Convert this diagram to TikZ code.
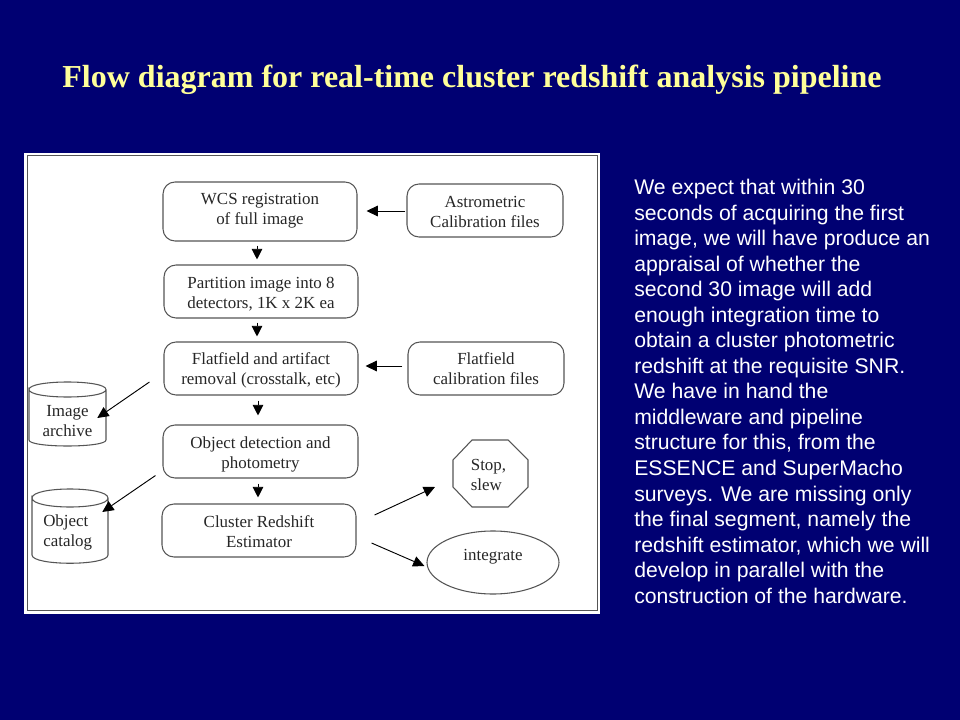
\documentclass[tikz,border=0pt]{standalone}
\usepackage{fontspec}
\setmainfont{Liberation Serif}
\newfontfamily\sansf{Liberation Sans}
\usetikzlibrary{arrows.meta,shapes.geometric}
\definecolor{navy}{HTML}{000072}
\definecolor{titley}{HTML}{FFFF99}
\definecolor{edgeg}{HTML}{555555}
\newcommand\tl[2]{\raisebox{\dimexpr-3.9pt+#1pt\relax}[0pt][0pt]{\begin{tabular}{@{}c@{}}#2\end{tabular}}}
\tikzset{
  x=0.75pt,y=-0.75pt,
  boxn/.style={draw=edgeg,line width=0.8pt,rounded corners=9pt,inner sep=0pt,
    font=\fontsize{12.7}{15}\selectfont,text=black!85},
  cylbody/.style={draw=edgeg,line width=0.8pt},
  lab/.style={align=left,inner sep=0pt,font=\fontsize{12.7}{15}\selectfont,text=black!85},
  arr/.style={draw=black,line width=0.7pt,-{Triangle[length=8.5pt,width=8pt]}},
  arrs/.style={draw=black,line width=0.7pt,-{Triangle[length=8pt,width=8pt]}},
}
\begin{document}
\begin{tikzpicture}
\useasboundingbox (0,0) rectangle (960,720);
\fill[navy] (0,0) rectangle (960,720);
\node[inner sep=0pt,anchor=center,text=titley,font=\fontsize{24}{28}\selectfont\bfseries] (title) at (472,80) {Flow diagram for real-time cluster redshift analysis pipeline};
\fill[white] (24,153) rectangle (600,614);
\draw[edgeg,line width=0.6pt] (27,155) rectangle (597,610);
% boxes
\node[boxn,minimum width=145.5pt,minimum height=44.25pt] (wcs) at (260,211.5) {\tl{1.9}{WCS registration\\of full image}};
\node[boxn,minimum width=145.5pt,minimum height=39.75pt] (part) at (261,291.5) {\tl{-1.1}{Partition image into 8\\detectors, 1K x 2K ea}};
\node[boxn,minimum width=145.5pt,minimum height=39.75pt] (flat) at (261,368.5) {\tl{-0.75}{Flatfield and artifact\\removal (crosstalk, etc)}};
\node[boxn,minimum width=146.25pt,minimum height=39.75pt] (obj) at (260.5,451.5) {\tl{-1.1}{Object detection and\\photometry}};
\node[boxn,minimum width=145.5pt,minimum height=39.75pt] (clu) at (259,530.5) {\tl{-1.1}{Cluster Redshift\\Estimator}};
\node[boxn,minimum width=117pt,minimum height=39.75pt] (astro) at (485,210.5) {\tl{-1.1}{Astrometric\\Calibration files}};
\node[boxn,minimum width=117pt,minimum height=39.75pt] (flatcal) at (486,368.5) {\tl{-0.4}{Flatfield\\calibration files}};
% cylinders
\draw[cylbody] (29,389.5) .. controls (29,379.5) and (106,379.5) .. (106,389.5)
  .. controls (106,399.5) and (29,399.5) .. (29,389.5) -- (29,440)
  .. controls (29,448) and (106,448) .. (106,440) -- (106,389.5);
\node[minimum width=57.75pt,minimum height=48pt,inner sep=0pt] (imgcyl) at (67.5,414) {};
\node[lab,align=center] (imgtxt) at (67.5,421) {Image\\archive};
\draw[cylbody] (32,498) .. controls (32,486) and (108,486) .. (108,498)
  .. controls (108,510) and (32,510) .. (32,498) -- (32,555)
  .. controls (32,566) and (108,566) .. (108,555) -- (108,498);
\node[minimum width=57pt,minimum height=55.5pt,inner sep=0pt] (catcyl) at (70,526) {};
\node[lab,anchor=west] (cattxt) at (43,532) {Object\\catalog};
% octagon
\coordinate (stopc) at (490.5,473.5);
\draw[edgeg,line width=0.8pt] (472,440)--(508,440)--(528,460)--(528,487)--(508,507)--(472,507)--(453,487)--(453,460)--cycle;
\node[lab] (stop) at (488.5,475) {Stop,\\slew};
% ellipse
\node[draw=edgeg,line width=0.8pt,ellipse,minimum width=99pt,minimum height=47.25pt,inner sep=0pt,font=\fontsize{12.7}{15}\selectfont,text=black!85] (integ) at (493,562.5) {\tl{5.1}{integrate}};
% arrows
\draw[arrs] ([shift={(-3,4)}]wcs.south) -- ([shift={(-4,-5)}]part.north);
\draw[arrs] ([shift={(-4,4)}]part.south) -- ([shift={(-4,-5)}]flat.north);
\draw[arrs] ([shift={(-3,5)}]flat.south) -- ([shift={(-2.5,-9)}]obj.north);
\draw[arrs] ([shift={(-2.5,5)}]obj.south) -- ([shift={(-1,-6)}]clu.north);
\draw[arr] ([shift={(-1,0.5)}]astro.west) -- ([shift={(9,-0.5)}]wcs.east);
\draw[arr] ([shift={(-5,-2.5)}]flatcal.west) -- ([shift={(7,-2.5)}]flat.east);
\draw[arr] ([shift={(-14,13.5)}]flat.west) -- ([shift={(-9,4)}]imgcyl.east);
\draw[arr] ([shift={(-7,-3)}]obj.south west) -- ([shift={(-6,-14)}]catcyl.east);
\draw[arr] ([shift={(18,-15.5)}]clu.east) -- ([shift={(-55.5,13.5)}]stopc);
\draw[arr] ([shift={(15,12.5)}]clu.east) -- ([shift={(-2,3.5)}]integ.west);
% paragraph
\node[anchor=north west,inner sep=0pt,align=left,text=white,font=\sansf\fontsize{15.9}{19.15}\selectfont] (para) at (634,179) {We expect that within 30\\seconds of acquiring the first\\image, we will have produce an\\appraisal of whether the\\second 30 image will add\\enough integration time to\\obtain a cluster photometric\\redshift at the requisite SNR.\\We have in hand the\\middleware and pipeline\\structure for this, from the\\ESSENCE and SuperMacho\\surveys. We are missing only\\the final segment, namely the\\redshift estimator, which we will\\develop in parallel with the\\construction of the hardware.};
\end{tikzpicture}
\end{document}
